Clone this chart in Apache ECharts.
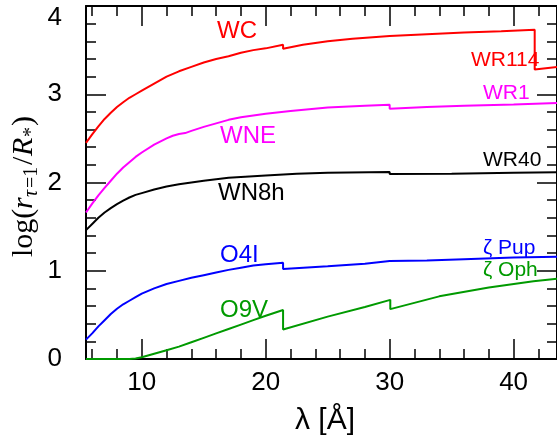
<!DOCTYPE html>
<html><head><meta charset="utf-8">
<script src="https://cdn.jsdelivr.net/npm/echarts@6/dist/echarts.min.js"></script>
<style>html,body{margin:0;padding:0;background:#fff}#c{width:557px;height:441px}</style>
</head><body><div id="c"></div>
<script>
// ---- data ----
const xWC  = [5.5,6,6.5,7,7.5,8,8.5,9,9.5,10,11,12,13,14,15,16,17,18,19,20,21.4,21.4,23,25,27,30,33,36,39,41.7,41.7,43.5];
const yWC  = [2.45,2.545,2.635,2.72,2.79,2.855,2.91,2.96,3.0,3.04,3.12,3.20,3.26,3.31,3.36,3.40,3.43,3.47,3.50,3.52,3.56,3.515,3.56,3.60,3.63,3.66,3.68,3.70,3.715,3.73,3.28,3.31];

const xWNE = [5.5,6,6.5,7,7.5,8,8.5,9,9.5,10,11,12,12.5,13,13.5,14,15,16,17,18,20,22,25,28,30,30,33,36,40,43.5];
const yWNE = [1.66,1.76,1.855,1.94,2.02,2.10,2.17,2.23,2.29,2.34,2.43,2.50,2.53,2.55,2.56,2.585,2.63,2.67,2.71,2.74,2.78,2.81,2.85,2.87,2.88,2.835,2.855,2.87,2.885,2.90];

const xWN8 = [5.5,6,6.5,7,7.5,8,8.5,9,9.5,10,11,12,13,14,15,17,20,22.5,25,30,30,35,40,43.5];
const yWN8 = [1.46,1.53,1.60,1.66,1.71,1.755,1.795,1.83,1.86,1.88,1.92,1.955,1.98,2.00,2.02,2.055,2.08,2.10,2.11,2.12,2.095,2.10,2.11,2.115];

const xO4I = [5.5,6,6.5,7,7.5,8,8.5,9,9.5,10,11,12,13,14,15,16,17,18,19,20,21.4,21.4,25,28,30,30,33,36,40,43.5];
const yO4I = [0.22,0.29,0.37,0.44,0.51,0.57,0.62,0.66,0.70,0.74,0.80,0.85,0.885,0.92,0.95,0.98,1.01,1.035,1.06,1.075,1.09,1.02,1.05,1.08,1.11,1.09,1.115,1.13,1.15,1.16];

const xO9V = [5.5,9,9.5,10,10.5,11,12,13,14,15,16,17,18,19,20,21.4,21.4,25,28,30.05,30.05,34,38,41.6,41.6,43.5];
const yO9V = [0,0,0.005,0.02,0.04,0.06,0.10,0.14,0.19,0.24,0.29,0.34,0.39,0.44,0.49,0.555,0.335,0.48,0.59,0.67,0.565,0.71,0.81,0.88,0.865,0.91];

const xMajorTicks = [10,20,30,40];
const xMinorTicks = [6,8,12,14,16,18,22,24,26,28,32,34,36,38,42];
const X_MIN = 5.5, X_MAX = 43.5, Y_MIN = 0, Y_MAX = 4;

// ---- chart ----
const zip = (xs, ys) => xs.map((x, i) => [x, ys[i]]);
const chart = echarts.init(document.getElementById('c'), null, {renderer: 'canvas'});
const SANS = 'Liberation Sans', SERIF = 'Liberation Serif';
const tickLS = {color: '#000', width: 1.5};
const TICKFS = 26;

function xAx(pos, ticks, len, line, labels) {
  return {
    type: 'value', position: pos, min: X_MIN, max: X_MAX,
    axisLine: {show: line, onZero: false, lineStyle: {color: '#000', width: 2}},
    axisTick: {show: true, inside: true, length: len, customValues: ticks, lineStyle: tickLS},
    axisLabel: labels ? {show: true, customValues: ticks, margin: 11, fontSize: TICKFS, fontFamily: SANS, color: '#000'} : {show: false},
    splitLine: {show: false}
  };
}
function yAx(pos, labels) {
  return {
    type: 'value', position: pos, min: Y_MIN, max: Y_MAX, interval: 1,
    axisLine: {show: true, onZero: false, lineStyle: {color: '#000', width: 2}},
    axisTick: {show: true, inside: true, length: 20, lineStyle: tickLS},
    minorTick: {show: true, splitNumber: 5, length: 10, lineStyle: tickLS},
    axisLabel: labels ? {
      show: true, margin: 24, fontSize: TICKFS, fontFamily: SANS, color: '#000',
      formatter: v => v === 4 ? '{t|4}' : String(v),
      rich: {t: {fontSize: TICKFS, fontFamily: SANS, color: '#000', padding: [24, 0, 0, 0]}}
    } : {show: false},
    splitLine: {show: false}, minorSplitLine: {show: false}
  };
}
function line(name, xs, ys, color) {
  return {type: 'line', name, data: zip(xs, ys), xAxisIndex: 0, yAxisIndex: 0,
    showSymbol: false, symbol: 'none', smooth: false,
    lineStyle: {color, width: 2}, itemStyle: {color}, z: 3};
}
function txt(s, x, y, color, size) {
  return {type: 'text', x, y, z: 10, style: {text: s, fill: color, fontSize: size, fontFamily: SANS,
    align: 'left', verticalAlign: 'middle', textAlign: 'left', textVerticalAlign: 'middle'}};
}
function ytxt(s, x, y, size, italic) {
  return {type: 'text', x, y, style: {text: s, fill: '#000', fontSize: size, fontFamily: SERIF,
    fontStyle: italic ? 'italic' : 'normal',
    align: 'left', verticalAlign: 'middle', textAlign: 'left', textVerticalAlign: 'middle'}};
}
const FS = 30, FSS = 20, SUB = 5;
const mid = -0.31 * FS, midS = SUB - 0.31 * FSS;

chart.setOption({
  animation: false,
  backgroundColor: '#fff',
  grid: {left: 86, top: 6, width: 478, height: 353, containLabel: false},
  xAxis: [
    xAx('bottom', xMajorTicks, 20, true, true),
    xAx('bottom', xMinorTicks, 10, false, false),
    xAx('top', xMajorTicks, 20, true, false),
    xAx('top', xMinorTicks, 10, false, false)
  ],
  yAxis: [yAx('left', true), yAx('right', false)],
  series: [
    line('WC', xWC, yWC, '#ff0000'),
    line('WNE', xWNE, yWNE, '#ff00ff'),
    line('WN8h', xWN8, yWN8, '#000000'),
    line('O4I', xO4I, yO4I, '#0000ff'),
    line('O9V', xO9V, yO9V, '#009a00')
  ],
  graphic: [
    txt('WC', 217, 31.5, '#ff0000', 24),
    txt('WNE', 220, 136, '#ff00ff', 24),
    txt('WN8h', 218, 193.5, '#000000', 24),
    txt('O4I', 220, 255, '#0000ff', 24),
    txt('O9V', 220, 310, '#009a00', 24),
    txt('WR114', 471, 60.5, '#ff0000', 21),
    txt('WR1', 483, 93, '#ff00ff', 21),
    txt('WR40', 483, 160, '#000000', 21),
    txt('ζ Pup', 483, 248, '#0000ff', 21),
    txt('ζ Oph', 483, 270, '#009a00', 21),
    {type: 'text', x: 325, y: 421, style: {text: 'λ [Å]', fill: '#000', fontSize: 30, fontFamily: SANS,
      align: 'center', verticalAlign: 'middle', textAlign: 'center', textVerticalAlign: 'middle'}},
    {type: 'group', x: 33, y: 257, rotation: Math.PI / 2, children: [
      ytxt('log(', 0, mid, FS, false),
      ytxt('r', 48, mid, FS, true),
      ytxt('τ', 60, midS, FSS, true),
      ytxt('=1', 69, midS, FSS, false),
      ytxt('/', 92, mid, FS, false),
      ytxt('R', 101, mid, FS, true),
      ytxt('*', 120, midS, FSS, false),
      ytxt(')', 131, mid, FS, false)
    ]}
  ]
});
</script>
</body></html>
